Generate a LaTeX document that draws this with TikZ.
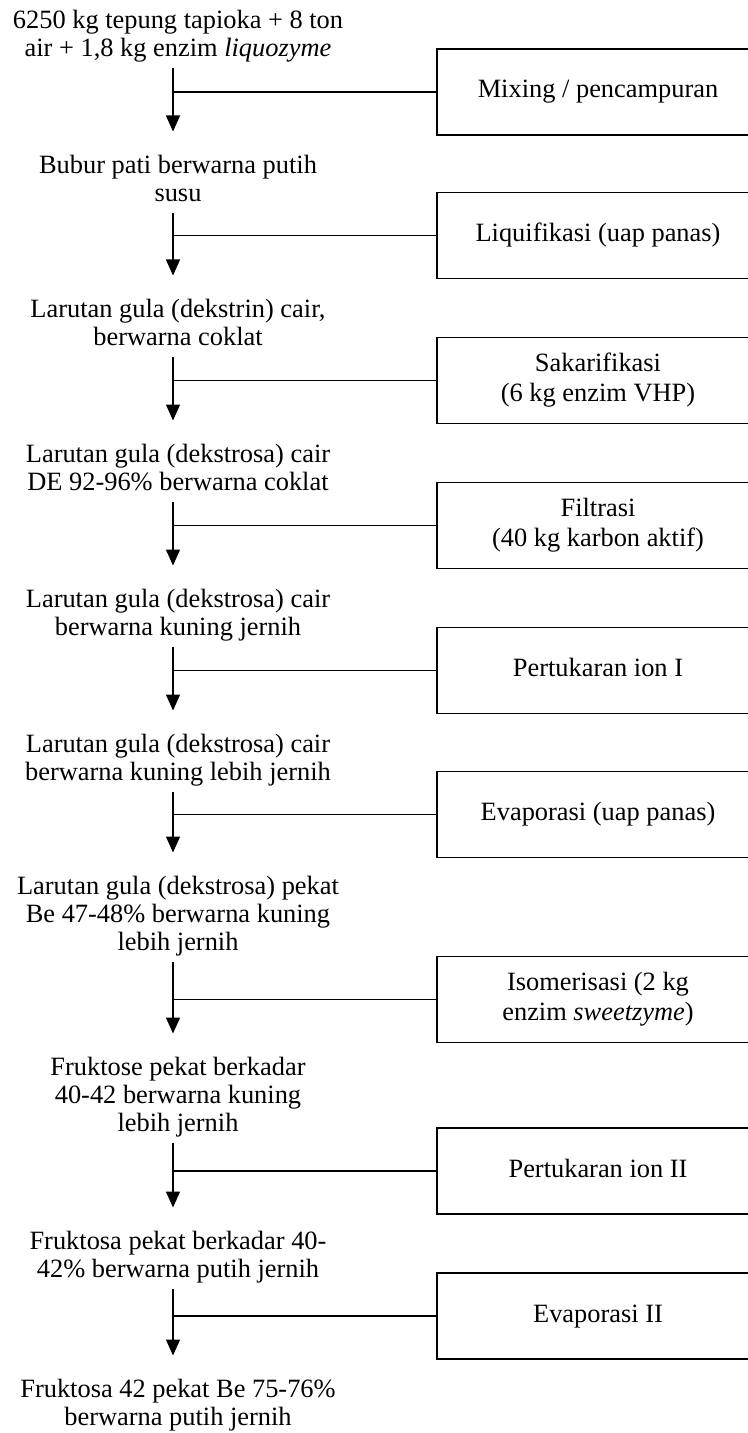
\documentclass[tikz,border=0pt]{standalone}
\usepackage{fontspec}
\setmainfont{Liberation Serif}
\usetikzlibrary{arrows.meta}

% invisible rules that fix the height of a first line and the depth of a last line
\newcommand\topst{\vrule height 10.5pt depth 0pt width 0pt}
\newcommand\botst{\vrule height 0pt depth 5.5pt width 0pt}

\tikzset{
  x=0.5pt, y=-0.5pt,
  stage/.style={font=\fontsize{13.2}{14}\selectfont, align=center, anchor=north,
                inner xsep=0pt, inner ysep=0.25pt},
  unitop/.style={font=\fontsize{13.2}{15}\selectfont, draw, line width=0.7pt,
                 align=center, inner sep=0pt, minimum width=161pt, minimum height=43pt},
  flow/.style={line width=0.7pt, -{Triangle[width=7pt,length=8pt]}, shorten >=10pt},
  feed/.style={line width=0.7pt}
}

\begin{document}
\begin{tikzpicture}
\useasboundingbox (0,0) rectangle (748,1433);
\clip (0,0) rectangle (748,1433);
\fill[white] (0,0) rectangle (748,1433);

\coordinate (spine) at (173,0);

% material stages (left column)
\node[stage] (t1)  at (178,6.5)    {\topst 6250 kg tepung tapioka + 8 ton\\ air + 1,8 kg enzim \textit{liquozyme}\botst};
\node[stage] (t2)  at (178,151.5)  {\topst Bubur pati berwarna putih\\ susu\botst};
\node[stage] (t3)  at (178,295.5)  {\topst Larutan gula (dekstrin) cair,\\ berwarna coklat\botst};
\node[stage] (t4)  at (178,440.5)  {\topst Larutan gula (dekstrosa) cair\\ DE 92-96\% berwarna coklat\botst};
\node[stage] (t5)  at (178,585.5)  {\topst Larutan gula (dekstrosa) cair\\ berwarna kuning jernih\botst};
\node[stage] (t6)  at (178,730.5)  {\topst Larutan gula (dekstrosa) cair\\ berwarna kuning lebih jernih\botst};
\node[stage] (t7)  at (178,872.5)  {\topst Larutan gula (dekstrosa) pekat\\ Be 47-48\% berwarna kuning\\ lebih jernih\botst};
\node[stage] (t8)  at (178,1053.5) {\topst Fruktose pekat berkadar\\ 40-42 berwarna kuning\\ lebih jernih\botst};
\node[stage] (t9)  at (178,1227.5) {\topst Fruktosa pekat berkadar 40-\\ 42\% berwarna putih jernih\botst};
\node[stage] (t10) at (178,1375.5) {\topst Fruktosa 42 pekat Be 75-76\%\\ berwarna putih jernih\botst};

% unit operations (right column)
\node[unitop] (b1) at (598,92)     {\strut Mixing / pencampuran\strut};
\node[unitop] (b2) at (598,235.5)  {\strut Liquifikasi (uap panas)\strut};
\node[unitop] (b3) at (598,380.5)  {\strut Sakarifikasi\\ (6 kg enzim VHP)\strut};
\node[unitop] (b4) at (598,525.5)  {\strut Filtrasi\\ (40 kg karbon aktif)\strut};
\node[unitop] (b5) at (598,670.5)  {\strut Pertukaran ion I\strut};
\node[unitop] (b6) at (598,814.5)  {\strut Evaporasi (uap panas)\strut};
\node[unitop] (b7) at (598,999.5)  {\strut Isomerisasi (2 kg\\ enzim \textit{sweetzyme})\strut};
\node[unitop] (b8) at (598,1171)   {\strut Pertukaran ion II\strut};
\node[unitop] (b9) at (598,1316)   {\strut Evaporasi II\strut};

% process flow with the operation attached to each step
\foreach \i/\j in {1/2,2/3,3/4,4/5,5/6,6/7,7/8,8/9,9/10}{
  \draw[flow] (t\i.south -| spine) -- (t\j.north -| spine);
  \draw[feed] (b\i.west -| spine) -- (b\i.west);
}
\end{tikzpicture}
\end{document}
